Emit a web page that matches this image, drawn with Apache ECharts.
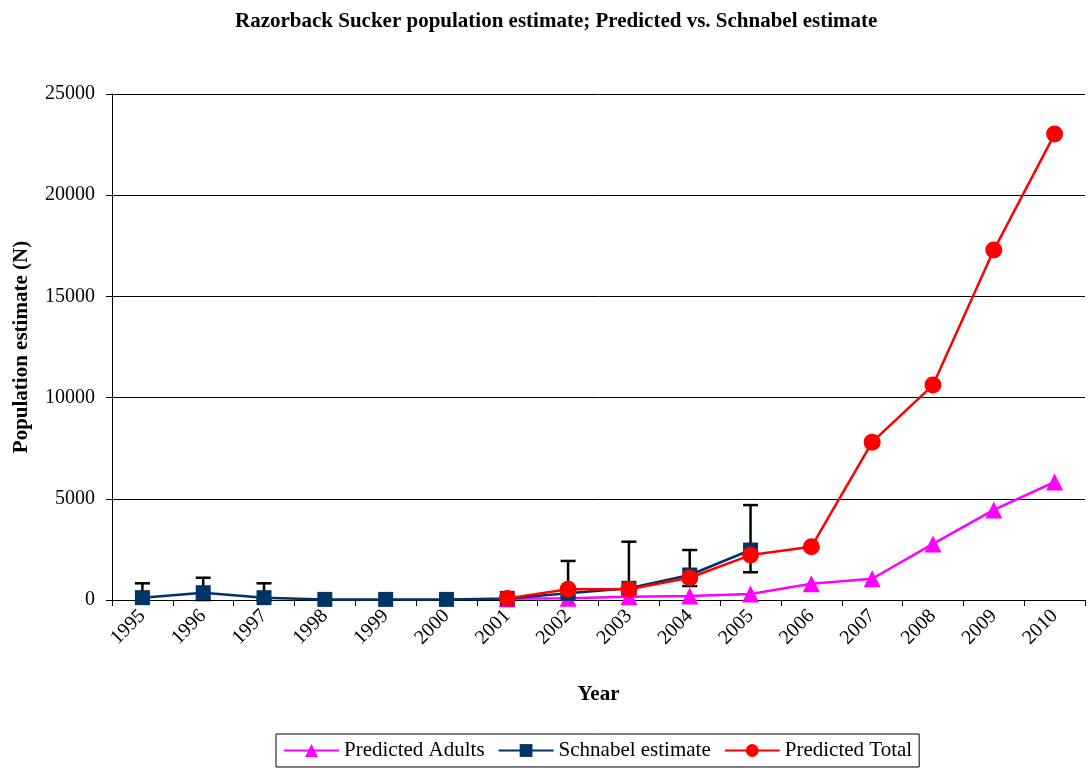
<!DOCTYPE html>
<html>
<head>
<meta charset="utf-8">
<script src="https://cdn.jsdelivr.net/npm/echarts@6/dist/echarts.min.js"></script>
<style>html,body{margin:0;padding:0;background:#fff}#c{width:1089px;height:768px}</style>
</head>
<body>
<div id="c"></div>
<script>
var years = ['1995','1996','1997','1998','1999','2000','2001','2002','2003','2004','2005','2006','2007','2008','2009','2010'];
var predictedAdults = [null,null,null,null,null,null,60,90,160,200,300,800,1050,2770,4450,5830];
var schnabel = [115,360,115,30,30,30,80,330,580,1235,2470,null,null,null,null,null];
var predictedTotal = [null,null,null,null,null,null,80,530,530,1100,2220,2630,7800,10620,17290,23020];
// error bars on Schnabel estimate: lower and upper bounds per year
var errLow = [0,0,0,null,null,null,null,150,300,690,1370,null,null,null,null,null];
var errHigh = [825,1100,825,null,null,null,null,1930,2880,2470,4690,null,null,null,null,null];
var yTicks = [0,5000,10000,15000,20000,25000];

var errData = [];
for (var i = 0; i < years.length; i++) {
  if (errHigh[i] != null) errData.push([i, errLow[i], errHigh[i]]);
}
var font = "'Liberation Serif', 'Times New Roman', serif";
var chart = echarts.init(document.getElementById('c'));
chart.setOption({
  animation: false,
  backgroundColor: '#fff',
  textStyle: { fontFamily: font },
  title: {
    text: 'Razorback Sucker population estimate; Predicted vs. Schnabel estimate',
    left: 230, top: 6,
    textStyle: { fontFamily: font, fontSize: 21, fontWeight: 'bold', color: '#000' }
  },
  grid: { left: 112, right: 4, top: 94, bottom: 168, containLabel: false },
  legend: {
    bottom: 1, left: 276,
    data: ['Predicted Adults', 'Schnabel estimate', 'Predicted Total'],
    borderColor: '#000', borderWidth: 1, padding: [6, 7, 6, 7],
    itemWidth: 55, itemHeight: 16, itemGap: 13,
    textStyle: { fontFamily: font, fontSize: 21, color: '#000' }
  },
  xAxis: {
    type: 'category', data: years, boundaryGap: true,
    name: 'Year', nameLocation: 'middle', nameGap: 84,
    nameTextStyle: { fontFamily: font, fontSize: 21, fontWeight: 'bold', color: '#000' },
    axisLine: { lineStyle: { color: '#000', width: 1 } },
    axisTick: { show: true, alignWithLabel: false, length: 6, lineStyle: { color: '#000' } },
    axisLabel: { rotate: 45, margin: 13, fontFamily: font, fontSize: 20, color: '#000', interval: 0 }
  },
  yAxis: {
    type: 'value', min: yTicks[0], max: yTicks[yTicks.length - 1], interval: yTicks[1] - yTicks[0],
    name: 'Population estimate (N)', nameLocation: 'middle', nameGap: 80,
    nameTextStyle: { fontFamily: font, fontSize: 21, fontWeight: 'bold', color: '#000' },
    axisLine: { show: true, lineStyle: { color: '#000', width: 1 } },
    axisTick: { show: true, length: 6, lineStyle: { color: '#000' } },
    axisLabel: { fontFamily: font, fontSize: 20, color: '#000', margin: 17,
      formatter: function (v) { return String(v); } },
    splitLine: { show: true, lineStyle: { color: '#000', width: 1 } }
  },
  series: [
    {
      name: 'Predicted Adults', type: 'line', data: predictedAdults, z: 3,
      symbol: 'triangle', symbolSize: 17, connectNulls: false,
      lineStyle: { color: '#FF00FF', width: 2.5 }, itemStyle: { color: '#FF00FF' }
    },
    {
      name: 'errbars', type: 'custom', data: errData, z: 2,
      renderItem: function (params, api) {
        var x = api.value(0);
        var lo = api.coord([x, api.value(1)]);
        var hi = api.coord([x, api.value(2)]);
        var w = 7.5;
        var st = { stroke: '#000', lineWidth: 2.5 };
        return { type: 'group', children: [
          { type: 'line', shape: { x1: hi[0], y1: hi[1], x2: lo[0], y2: lo[1] }, style: st },
          { type: 'line', shape: { x1: hi[0] - w, y1: hi[1], x2: hi[0] + w, y2: hi[1] }, style: st },
          { type: 'line', shape: { x1: lo[0] - w, y1: lo[1], x2: lo[0] + w, y2: lo[1] }, style: st }
        ] };
      }
    },
    {
      name: 'Schnabel estimate', type: 'line', data: schnabel, z: 4,
      symbol: 'rect', symbolSize: 15,
      lineStyle: { color: '#003366', width: 2.5 }, itemStyle: { color: '#003366' }
    },
    {
      name: 'Predicted Total', type: 'line', data: predictedTotal, z: 5,
      symbol: 'circle', symbolSize: 17,
      lineStyle: { color: '#FF0000', width: 2.5 }, itemStyle: { color: '#FF0000' }
    }
  ]
});
</script>
</body>
</html>
